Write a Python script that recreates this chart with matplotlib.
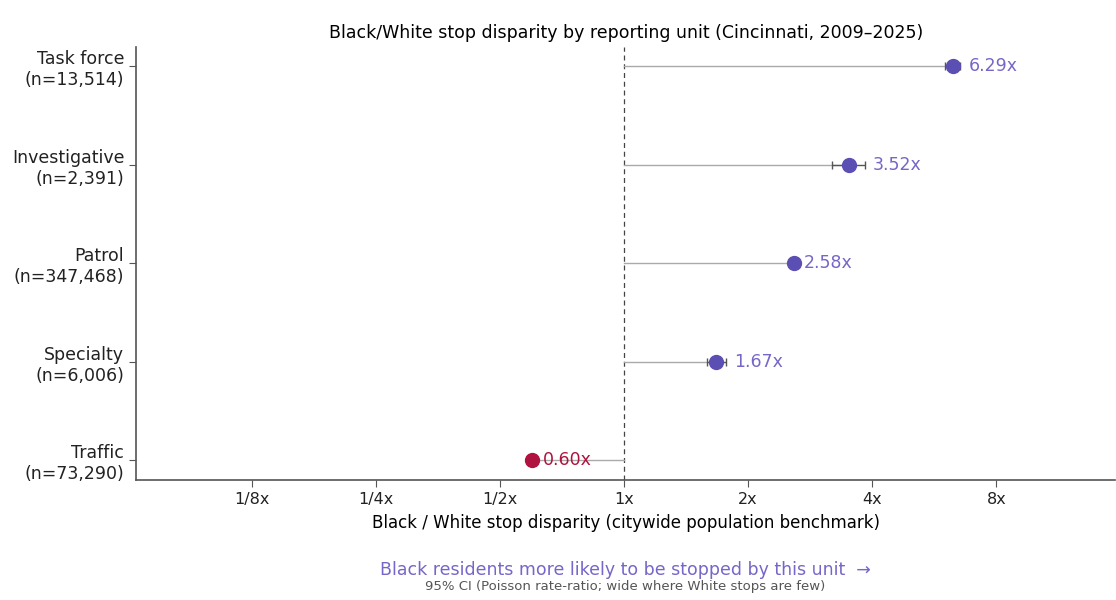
import numpy as np
import matplotlib.pyplot as plt

plt.rcParams['font.family'] = ['DejaVu Sans']

# reporting units, bottom to top
units = ["Traffic", "Specialty", "Patrol", "Investigative", "Task force"]
stops = [73290, 6006, 347468, 2391, 13514]
ratio = [0.60, 1.67, 2.58, 3.52, 6.29]
ci_lo = [0.59, 1.59, 2.55, 3.20, 6.02]
ci_hi = [0.61, 1.77, 2.61, 3.84, 6.55]

purple = "#5b4fb3"
purple_txt = "#7566c9"
crimson = "#b0123f"

fig, ax = plt.subplots(figsize=(11.16, 6), dpi=100)
fig.subplots_adjust(left=0.122, right=0.9995, top=0.922, bottom=0.2)

y = np.arange(len(units))
for i in range(len(units)):
    r = ratio[i]
    col = purple if r >= 1 else crimson
    tcol = purple_txt if r >= 1 else crimson
    ax.plot([1, r], [y[i], y[i]], color="#aaaaaa", lw=1, zorder=1)
    ax.errorbar(r, y[i], xerr=[[r - ci_lo[i]], [ci_hi[i] - r]], fmt="none",
                ecolor="#555555", elinewidth=1, capsize=3, zorder=2)
    ax.scatter(r, y[i], s=100, color=col, zorder=3)
    ax.text(ci_hi[i] * 1.045, y[i], f"{r:.2f}x", color=tcol, fontsize=12.5,
            va="center", ha="left", zorder=4)

ax.axvline(1, color="#444444", lw=0.9, ls=(0, (4, 3)), zorder=0)

ax.set_xscale("log", base=2)
ticks = [1 / 8, 1 / 4, 1 / 2, 1, 2, 4, 8]
ax.set_xticks(ticks)
ax.set_xticklabels(["1/8x", "1/4x", "1/2x", "1x", "2x", "4x", "8x"], fontsize=11.5)
ax.minorticks_off()
ax.set_xlim(2 ** -3.93, 2 ** 3.96)
ax.set_ylim(-0.2, 4.2)

ax.set_yticks(y)
ax.set_yticklabels([f"{u}\n(n={n:,})" for u, n in zip(units, stops)], fontsize=12.5)

for s in ["top", "right"]:
    ax.spines[s].set_visible(False)
for s in ["left", "bottom"]:
    ax.spines[s].set_color("#555555")
    ax.spines[s].set_linewidth(1.2)
ax.tick_params(colors="#555555", labelcolor="#222222", length=5)

ax.set_title("Black/White stop disparity by reporting unit (Cincinnati, 2009\u20132025)",
             fontsize=12.5, pad=6)
ax.set_xlabel("Black / White stop disparity (citywide population benchmark)",
              fontsize=12, labelpad=5)

fig.text(0.56, 0.042, "Black residents more likely to be stopped by this unit  \u2192",
         ha="center", color=purple_txt, fontsize=12.5)
fig.text(0.56, 0.016, "95% CI (Poisson rate-ratio; wide where White stops are few)",
         ha="center", color="#555555", fontsize=9.5)

fig.savefig("out.png")
